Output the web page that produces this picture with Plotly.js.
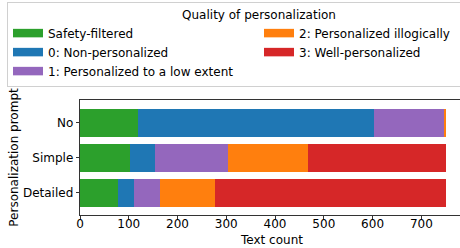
<!DOCTYPE html>
<html>
<head>
<meta charset="utf-8">
<script src="https://cdn.plot.ly/plotly-3.0.1.min.js"></script>
<style>html,body{margin:0;padding:0;overflow:hidden;background:#fff;width:460px;height:248px}</style>
</head>
<body>
<div style="width:460px;height:248px;overflow:hidden">
<div id="chart" style="width:1020px;height:248px"></div>
</div>
<script>
var categories = ['No', 'Simple', 'Detailed'];
var seriesNames = ['Safety-filtered', '0: Non-personalized', '1: Personalized to a low extent', '2: Personalized illogically', '3: Well-personalized'];
var safetyFiltered = [119, 103, 78];
var nonPersonalized = [484, 51, 33];
var lowExtent = [143, 150, 53];
var illogically = [4, 164, 113];
var wellPersonalized = [0, 282, 473];
var colors = ['#2ca02c', '#1f77b4', '#9467bd', '#ff7f0e', '#d62728'];
var legendRanks = [1, 3, 5, 2, 4];
var xTicks = [0, 100, 200, 300, 400, 500, 600, 700];

var seriesValues = [safetyFiltered, nonPersonalized, lowExtent, illogically, wellPersonalized];
var traces = seriesValues.map(function (vals, i) {
  return {
    type: 'bar',
    orientation: 'h',
    name: seriesNames[i],
    x: vals,
    y: categories,
    marker: {color: colors[i], line: {width: 0}},
    showlegend: false,
    hoverinfo: 'x+name'
  };
});
// legend entries drawn as wide patches (legend-only proxies, no marks)
seriesNames.forEach(function (name, i) {
  traces.push({
    type: 'scatter',
    mode: 'lines',
    name: name,
    x: [null],
    y: [null],
    line: {color: colors[i], width: 8.5},
    showlegend: true,
    legendrank: legendRanks[i],
    hoverinfo: 'skip'
  });
});

var W = 1020, H = 248, L = 80, PR = 464;
var font = {family: 'DejaVu Sans, sans-serif', size: 12, color: '#000'};
var layout = {
  width: W,
  height: H,
  margin: {l: L, r: W - PR, t: 100, b: 33, pad: 0, autoexpand: false},
  paper_bgcolor: '#fff',
  plot_bgcolor: '#fff',
  font: font,
  barmode: 'stack',
  bargap: 0.2,
  showlegend: true,
  legend: {
    orientation: 'h',
    xref: 'paper',
    yref: 'container',
    x: (7 - L) / (PR - L),
    y: 1 - 2 / H,
    xanchor: 'left',
    yanchor: 'top',
    bordercolor: '#d0d0d0',
    borderwidth: 1,
    bgcolor: '#fff',
    font: font,
    entrywidth: 206,
    itemwidth: 30,
    tracegroupgap: 0,
    traceorder: 'normal',
    title: {text: 'Quality of personalization', side: 'top center', font: font}
  },
  xaxis: {
    range: [0, 787.5],
    tickvals: xTicks,
    ticktext: xTicks.map(String),
    ticks: 'outside',
    ticklen: 3.5,
    tickwidth: 0.8,
    tickcolor: '#000',
    ticklabelstandoff: -6,
    showline: true,
    linecolor: '#000',
    linewidth: 0.8,
    mirror: true,
    showgrid: false,
    zeroline: false,
    tickfont: font,
    title: {text: 'Text count', font: font, standoff: 5}
  },
  yaxis: {
    type: 'category',
    categoryorder: 'array',
    categoryarray: categories,
    range: [2.64, -0.65],
    ticks: 'outside',
    ticklen: 3.5,
    tickwidth: 0.8,
    tickcolor: '#000',
    showline: true,
    linecolor: '#000',
    linewidth: 0.8,
    mirror: false,
    showgrid: false,
    zeroline: false,
    tickfont: font,
    title: {text: 'Personalization prompt', font: font, standoff: 1}
  }
};

Plotly.newPlot('chart', traces, layout, {displayModeBar: false, staticPlot: true});
</script>
</body>
</html>
